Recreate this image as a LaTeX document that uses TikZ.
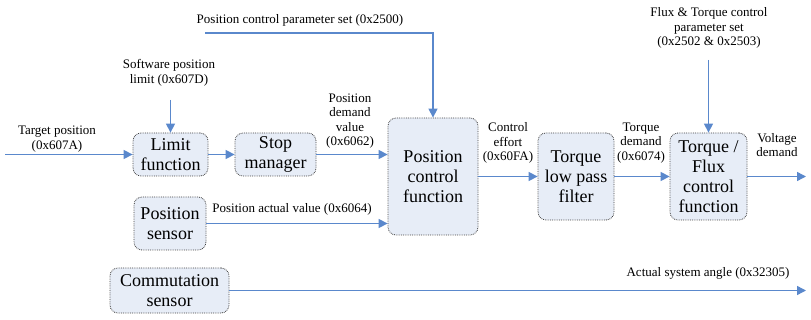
\documentclass[tikz,border=0pt]{standalone}
\usepackage{fontspec}
\setmainfont{Liberation Serif}
\usepackage{xcolor}
\definecolor{flow}{RGB}{90,136,204}
\definecolor{blockfill}{RGB}{231,237,247}
\usetikzlibrary{arrows.meta,positioning}

\begin{document}
\begin{tikzpicture}[
    x=1pt, y=-1pt,
    block/.style={draw=black!75, densely dotted, line width=0.8pt, rounded corners=8pt, fill=blockfill, align=center, font=\fontsize{18}{20}\selectfont, inner sep=1pt},
    lbl/.style={align=center, font=\fontsize{13}{14.5}\selectfont, inner sep=1pt},
    sig/.style={-{Triangle[length=9pt,width=9pt]}, line width=1.4pt, flow}
]
\useasboundingbox (0,0) rectangle (811,320);

\node[block, minimum width=75pt, minimum height=43pt] (limit) at (170.5,154.5) {Limit\\function};
\node[block, minimum width=81pt, minimum height=43pt] (stop) at (275.5,154.5) {Stop\\manager};
\node[block, minimum width=90pt, minimum height=117pt] (pcf) at (433,176.5) {Position\\control\\function};
\node[block, minimum width=76pt, minimum height=87pt] (lpf) at (576,176.5) {Torque\\low pass\\filter};
\node[block, minimum width=77pt, minimum height=87pt] (tfc) at (708.5,176.5) {Torque /\\Flux\\control\\function};
\node[block, minimum width=72pt, minimum height=53pt] (possens) at (170,223.5) {Position\\sensor};
\node[block, minimum width=119pt, minimum height=45pt] (commsens) at (169.5,290.5) {Commutation\\sensor};

\node[lbl] (targetlbl) at (57,139) {Target position\\(0x607A)};
\node[lbl] (limitlbl) at (169,73) {Software position\\limit (0x607D)};
\node[lbl] (demandlbl) at (350,121) {Position\\demand\\value\\(0x6062)};
\node[lbl] (pcplbl) at (300,20) {Position control parameter set (0x2500)};
\node[lbl] (actuallbl) at (292,209) {Position actual value (0x6064)};
\node[lbl] (effortlbl) at (508,143) {Control\\effort\\(0x60FA)};
\node[lbl] (torquelbl) at (641,143) {Torque\\demand\\(0x6074)};
\node[lbl] (ftplbl) at (709,28) {Flux \& Torque control\\parameter set\\(0x2502 \& 0x2503)};
\node[lbl] (voltlbl) at (777,145) {Voltage\\demand};
\node[lbl] (anglelbl) at (708,273) {Actual system angle (0x32305)};

\coordinate (targetin) at (5,154.5);
\coordinate (limitin) at (170.5,100);
\coordinate (pcpin) at (205,33);
\coordinate (ftpin) at (708.5,60);
\coordinate (voltout) at (806,176.5);
\coordinate (angleout) at (806,290.5);

\draw[sig] (targetin) -- (limit);
\draw[sig] (limitin) -- (limit);
\draw[sig] (limit) -- (stop);
\draw[sig] (stop.east) -- (stop.east -| pcf.west);
\draw[sig] (pcpin) -| (pcf);
\draw[sig] (possens.east) -- (possens.east -| pcf.west);
\draw[sig] (pcf.east |- lpf) -- (lpf);
\draw[sig] (lpf) -- (tfc);
\draw[sig] (ftpin) -- (tfc);
\draw[sig] (tfc) -- (voltout);
\draw[sig] (commsens) -- (angleout);
\end{tikzpicture}
\end{document}
